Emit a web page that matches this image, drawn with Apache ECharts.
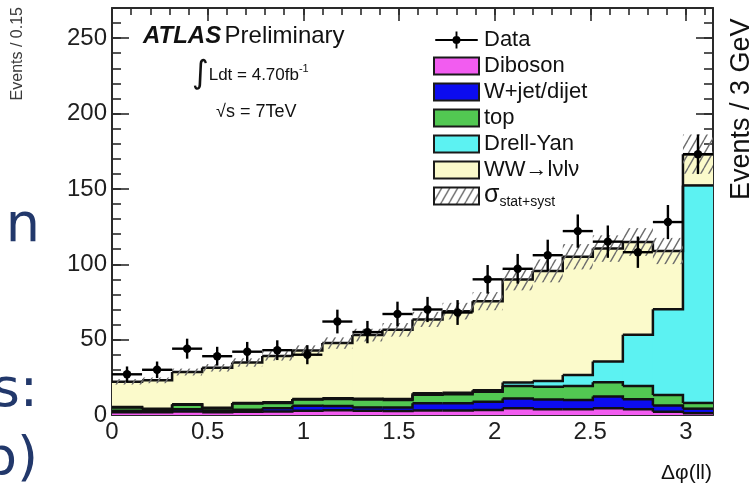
<!DOCTYPE html>
<html>
<head>
<meta charset="utf-8">
<script src="https://cdn.jsdelivr.net/npm/echarts@6/dist/echarts.min.js"></script>
<style>
  html, body { margin: 0; padding: 0; background: #ffffff; }
  #chart { width: 753px; height: 488px; }
</style>
</head>
<body>
<div id="chart"></div>
<script>
// Delta-phi(ll) distribution, 20 bins between 0 and pi
const binCount = 20;
const phiMax = Math.PI;

// Observed events per bin
const dataCounts = [27, 30, 44, 39, 42, 43, 40, 62, 55, 67, 70, 68, 90, 97, 106, 122, 115, 108, 128, 173];

// Expected events per bin, per process (stacked bottom to top)
const diboson  = [1.8, 1.8, 2.4, 1.8, 2.2, 2.4, 2.8, 3.1, 2.8, 2.6, 3.0, 3.0, 3.3, 4.4, 3.8, 3.8, 4.4, 3.8, 2.2, 1.2];
const wJet     = [1.0, 0.7, 1.4, 1.2, 1.3, 2.1, 3.4, 2.9, 2.2, 2.4, 4.8, 4.8, 5.5, 6.6, 6.4, 6.2, 7.9, 6.6, 4.1, 3.0];
const topQuark = [2.2, 1.3, 3.0, 1.5, 4.1, 3.5, 4.0, 4.6, 5.2, 5.0, 5.7, 5.9, 6.7, 8.3, 8.6, 9.2, 9.5, 8.9, 7.0, 3.8];
const drellYan = [0.3, 0.3, 0.3, 0.3, 0.4, 0.4, 0.4, 0.5, 0.5, 0.6, 1.0, 1.1, 1.0, 2.2, 3.7, 7.3, 13.7, 33.9, 56.8, 144.3];
const wwSignal = [16.7, 18.9, 21.4, 26.5, 26.8, 30.8, 32.2, 36.6, 42.3, 45.9, 48.9, 54.1, 59.0, 68.4, 73.1, 78.5, 74.9, 61.6, 38.7, 20.7];

// Total stat+syst uncertainty on the expectation
const mcUncert = [1.8, 1.9, 2.3, 2.5, 2.8, 3.1, 3.4, 3.8, 4.2, 4.5, 5.0, 5.5, 6.0, 7.2, 7.6, 8.4, 8.8, 9.2, 8.7, 13.0];

// Axis ticks
const xMajorStep = 0.5, xMinorStep = 0.1;
const yMax = 270, yMajorStep = 50, yMinorStep = 10;

const processNames  = ['Diboson', 'W+jet/dijet', 'top', 'Drell-Yan', 'WW\u2192l\u03bdl\u03bd'];
const processValues = [diboson, wJet, topQuark, drellYan, wwSignal];
const processColors = ['#f25cf0', '#0c0cf0', '#52c852', '#5cf2f2', '#fbfacb'];
const bandName = '\u03c3stat+syst';

const binWidth = phiMax / binCount;
const binEdges = Array.from({ length: binCount + 1 }, (_, k) => k * binWidth);

// Cumulative stack heights, one array per process
const cumulative = [];
processValues.forEach((vals, p) => {
  cumulative.push(vals.map((v, i) => v + (p > 0 ? cumulative[p - 1][i] : 0)));
});
const totals = cumulative[cumulative.length - 1];

// Diagonal hatching for the uncertainty band
function makeHatch() {
  const c = document.createElement('canvas');
  c.width = 8; c.height = 14;
  const g = c.getContext('2d');
  g.strokeStyle = '#6e6e6e';
  g.lineWidth = 1.4;
  g.beginPath();
  g.moveTo(-8, 14); g.lineTo(0, 0);
  g.moveTo(0, 14); g.lineTo(8, 0);
  g.moveTo(8, 14); g.lineTo(16, 0);
  g.stroke();
  return { image: c, repeat: 'repeat' };
}
const hatch = makeHatch();

// Each process is drawn as a filled step histogram from zero up to its
// cumulative height, outlined in black; lower processes are painted later.
function histSeries(p) {
  const cum = cumulative[p];
  return {
    name: processNames[p],
    type: 'custom',
    silent: true,
    clip: true,
    xAxisIndex: 0, yAxisIndex: 0,
    itemStyle: { color: processColors[p] },
    data: cum.map((v, i) => [binEdges[i], binEdges[i + 1], v, i + 1 < binCount ? cum[i + 1] : v]),
    encode: { x: [0, 1], y: 2 },
    renderItem: function (params, api) {
      const x0 = api.value(0), x1 = api.value(1), h = api.value(2), hNext = api.value(3);
      const a = api.coord([x0, h]);
      const b = api.coord([x1, 0]);
      const n = api.coord([x1, hNext]);
      return {
        type: 'group',
        children: [
          { type: 'rect', shape: { x: a[0], y: a[1], width: b[0] - a[0] + 0.7, height: b[1] - a[1] },
            style: { fill: processColors[p], stroke: null } },
          { type: 'polyline', shape: { points: [[a[0], a[1]], [b[0], a[1]], [b[0], n[1]]] },
            style: { stroke: '#111', lineWidth: 2.5, fill: null }, z2: 5 }
        ]
      };
    },
    z: 2
  };
}
const stackSeries = [4, 3, 2, 1, 0].map(histSeries);

const bandSeries = {
  name: bandName,
  type: 'custom',
  silent: true,
  clip: true,
  xAxisIndex: 0, yAxisIndex: 0,
  itemStyle: { color: hatch },
  data: totals.map((t, i) => [binEdges[i], binEdges[i + 1], t - mcUncert[i], t + mcUncert[i]]),
  encode: { x: [0, 1], y: [2, 3] },
  renderItem: function (params, api) {
    const p0 = api.coord([api.value(0), api.value(3)]);
    const p1 = api.coord([api.value(1), api.value(2)]);
    return {
      type: 'rect',
      shape: { x: p0[0], y: p0[1], width: p1[0] - p0[0], height: p1[1] - p0[1] },
      style: { fill: hatch, stroke: null }
    };
  },
  z: 3
};

const dataSeries = {
  name: 'Data',
  type: 'custom',
  silent: true,
  clip: true,
  xAxisIndex: 0, yAxisIndex: 0,
  itemStyle: { color: '#000' },
  data: dataCounts.map((n, i) => [(binEdges[i] + binEdges[i + 1]) / 2, n, Math.sqrt(n), binEdges[i], binEdges[i + 1]]),
  encode: { x: 0, y: 1 },
  renderItem: function (params, api) {
    const xc = api.value(0), y = api.value(1), e = api.value(2);
    const c = api.coord([xc, y]);
    const l = api.coord([api.value(3), y]);
    const r = api.coord([api.value(4), y]);
    const hi = api.coord([xc, y + e]);
    const lo = api.coord([xc, y - e]);
    const ls = { stroke: '#000', lineWidth: 2.4 };
    return {
      type: 'group',
      children: [
        { type: 'line', shape: { x1: l[0], y1: l[1], x2: r[0], y2: r[1] }, style: ls },
        { type: 'line', shape: { x1: lo[0], y1: lo[1], x2: hi[0], y2: hi[1] }, style: ls },
        { type: 'circle', shape: { cx: c[0], cy: c[1], r: 4.2 }, style: { fill: '#000' } }
      ]
    };
  },
  z: 4
};

const frameColor = '#2a2a2a';
const labelFont = { fontFamily: 'Liberation Sans', fontSize: 24, color: '#1e1e1e' };

function xAxisDef(position, step, tickLen, labels, line) {
  return {
    type: 'value', min: 0, max: phiMax, interval: step, position: position,
    axisLine: { show: line, onZero: false, lineStyle: { color: frameColor, width: 2 } },
    axisTick: { show: true, inside: true, length: tickLen, lineStyle: { color: frameColor, width: 1.6 } },
    axisLabel: Object.assign({ show: labels, margin: 5, showMaxLabel: false, formatter: v => String(+v.toFixed(2)) }, labelFont),
    splitLine: { show: false }, minorTick: { show: false }
  };
}
function yAxisDef(position, step, tickLen, labels, line) {
  return {
    type: 'value', min: 0, max: yMax, interval: step, position: position,
    axisLine: { show: line, onZero: false, lineStyle: { color: frameColor, width: 2 } },
    axisTick: { show: true, inside: true, length: tickLen, lineStyle: { color: frameColor, width: 1.6 } },
    axisLabel: Object.assign({ show: labels, margin: 5, showMaxLabel: false }, labelFont),
    splitLine: { show: false }, minorTick: { show: false }
  };
}

const legendIconData = 'path://M0 8H45V10H0Z M21.5 0H23.5V18H21.5Z M18.3 9A4.2 4.2 0 1 1 26.7 9A4.2 4.2 0 1 1 18.3 9Z';

const chart = echarts.init(document.getElementById('chart'), null, { renderer: 'canvas' });
chart.setOption({
  animation: false,
  backgroundColor: '#ffffff',
  grid: { left: 112, right: 40, top: 8, bottom: 73, containLabel: false },
  xAxis: [
    xAxisDef('bottom', xMajorStep, 13, true, true),
    xAxisDef('bottom', xMinorStep, 7, false, false),
    xAxisDef('top', xMajorStep, 13, false, true),
    xAxisDef('top', xMinorStep, 7, false, false)
  ],
  yAxis: [
    yAxisDef('left', yMajorStep, 17, true, true),
    yAxisDef('left', yMinorStep, 9, false, false),
    yAxisDef('right', yMajorStep, 17, false, true),
    yAxisDef('right', yMinorStep, 9, false, false)
  ],
  legend: {
    left: 428, top: 22, orient: 'vertical',
    itemWidth: 45, itemHeight: 17, itemGap: 0,
    selectedMode: false,
    textStyle: {
      fontFamily: 'Liberation Sans', fontSize: 22, color: '#111', lineHeight: 26,
      rich: {
        s: { fontFamily: 'Liberation Sans', fontSize: 25, color: '#111', lineHeight: 26, verticalAlign: 'top' },
        sub: { fontFamily: 'Liberation Sans', fontSize: 14, color: '#111', lineHeight: 26, verticalAlign: 'bottom', padding: [11, 0, 0, 0] }
      }
    },
    formatter: name => name === bandName ? '{s|\u03c3}{sub|stat+syst}' : name,
    data: [
      { name: 'Data', icon: legendIconData, itemStyle: { color: '#000', borderWidth: 0 } },
      ...processNames.map((n, p) => ({ name: n, icon: 'rect', itemStyle: { color: processColors[p], borderColor: '#1a1a1a', borderWidth: 2 } })),
      { name: bandName, icon: 'rect', itemStyle: { color: hatch, borderColor: '#1a1a1a', borderWidth: 2 } }
    ]
  },
  graphic: [
    { type: 'text', x: 143, y: 36, style: {
        text: '{a|ATLAS} {b|Preliminary}', verticalAlign: 'middle', align: 'left',
        rich: {
          a: { fontFamily: 'Liberation Sans', fontWeight: 'bold', fontStyle: 'italic', fontSize: 24, fill: '#111' },
          b: { fontFamily: 'Liberation Sans', fontSize: 24, fill: '#111' }
        } } },
    { type: 'text', x: 192, y: 75, style: {
        text: '{i|\u222b}{t|Ldt = 4.70fb}{u|-1}', verticalAlign: 'middle', align: 'left',
        rich: {
          i: { fontFamily: 'DejaVu Sans', fontSize: 32, fill: '#111' },
          t: { fontFamily: 'Liberation Sans', fontSize: 17, fill: '#111' },
          u: { fontFamily: 'Liberation Sans', fontSize: 11, fill: '#111', padding: [0, 0, 12, 0] }
        } } },
    { type: 'text', x: 216, y: 112, style: {
        text: '\u221as = 7TeV', font: '18px "Liberation Sans"', fill: '#111', verticalAlign: 'middle', align: 'left' } },
    { type: 'text', x: 712, y: 473, style: {
        text: '\u0394\u03c6(ll)', font: '21px "Liberation Sans"', fill: '#111', verticalAlign: 'middle', align: 'right' } },
    { type: 'text', x: 18, y: 7, rotation: Math.PI / 2, style: {
        text: 'Events / 0.15', font: '16px "Liberation Sans"', fill: '#3a3a3a', verticalAlign: 'middle', align: 'right' } },
    { type: 'text', x: 742, y: 200, rotation: Math.PI / 2, style: {
        text: 'Events / 3 GeV', font: '27px "Liberation Sans"', fill: '#111', verticalAlign: 'middle', align: 'left' } },
    { type: 'text', x: 40, y: 227, style: {
        text: 'n', font: '54px "DejaVu Sans"', fill: '#22386b', verticalAlign: 'middle', align: 'right' } },
    { type: 'text', x: 38, y: 392, style: {
        text: 's:', font: '54px "DejaVu Sans"', fill: '#22386b', verticalAlign: 'middle', align: 'right' } },
    { type: 'text', x: 38, y: 461, style: {
        text: 'b)', font: '54px "DejaVu Sans"', fill: '#22386b', verticalAlign: 'middle', align: 'right' } }
  ],
  series: [...stackSeries, bandSeries, dataSeries]
});
</script>
</body>
</html>
